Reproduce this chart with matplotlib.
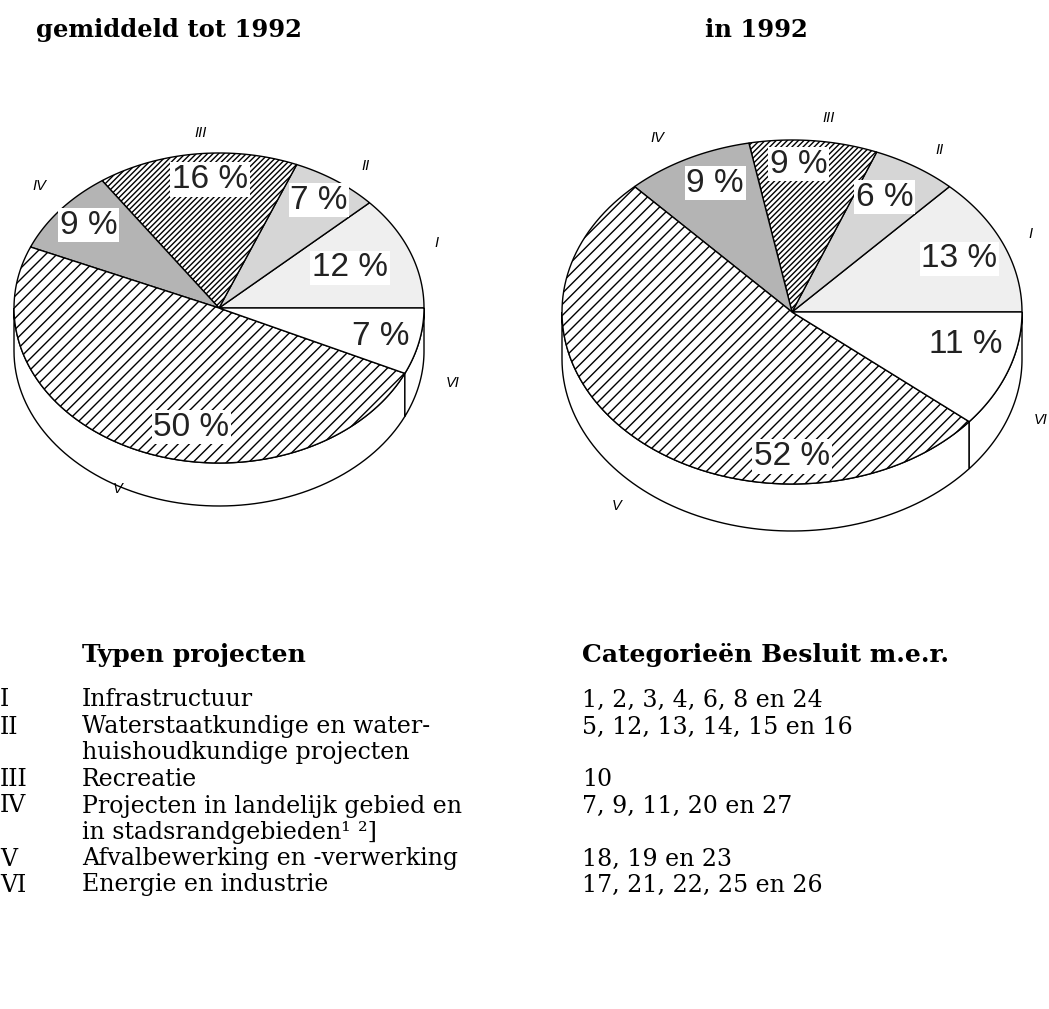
import numpy as np
import matplotlib.pyplot as plt
from matplotlib.patches import Polygon

plt.rcParams['hatch.linewidth'] = 1.0

# data
labels = ['I', 'II', 'III', 'IV', 'V', 'VI']
avg_until_1992 = [12, 7, 16, 9, 50, 7]
in_1992 = [13, 6, 9, 9, 52, 11]

titles = ['gemiddeld tot 1992', 'in 1992']

types = ['Infrastructuur',
         'Waterstaatkundige en water-\nhuishoudkundige projecten',
         'Recreatie',
         'Projecten in landelijk gebied en\nin stadsrandgebieden\u00b9 \u00b2]',
         'Afvalbewerking en -verwerking',
         'Energie en industrie']
categories = ['1, 2, 3, 4, 6, 8 en 24',
              '5, 12, 13, 14, 15 en 16',
              '10',
              '7, 9, 11, 20 en 27',
              '18, 19 en 23',
              '17, 21, 22, 25 en 26']

# styles per slice
fills = ['#efefef', '#d6d6d6', 'white', '#b4b4b4', 'white', 'white']
hatches = [None, None, '//////', None, '///', None]


def ell(cx, cy, rx, ry, t):
    t = np.radians(t)
    return np.column_stack([cx + rx * np.cos(t), cy - ry * np.sin(t)])


def draw_pie(ax, cx, cy, rx, ry, depth, values, pct_pos, lab_pos):
    vals = np.array(values, dtype=float)
    edges = np.concatenate([[0], np.cumsum(vals) / vals.sum() * 360])

    # side wall (front half only)
    for a, b in zip(edges[:-1], edges[1:]):
        lo, hi = max(a, 180), min(b, 360)
        if hi <= lo:
            continue
        t = np.linspace(lo, hi, 80)
        top = ell(cx, cy, rx, ry, t)
        bot = top[::-1] + [0, depth]
        ax.add_patch(Polygon(np.vstack([top, bot]), closed=True,
                             facecolor='white', edgecolor='black', lw=1))

    # top wedges
    for i, (a, b) in enumerate(zip(edges[:-1], edges[1:])):
        t = np.linspace(a, b, 100)
        pts = np.vstack([[cx, cy], ell(cx, cy, rx, ry, t)])
        ax.add_patch(Polygon(pts, closed=True, facecolor=fills[i],
                             hatch=hatches[i], edgecolor='black', lw=1))

    for i, v in enumerate(values):
        ang, r = pct_pos[i]
        x, y = ell(cx, cy, rx * r, ry * r, [ang])[0]
        ax.text(x, y, f'{v} %', fontsize=24, family='Liberation Sans',
                ha='center', va='center', color='#222222',
                bbox=dict(boxstyle='square,pad=0.05', fc='white', ec='none'))
        ang, r = lab_pos[i]
        x, y = ell(cx, cy, rx * r, ry * r, [ang])[0]
        ax.text(x, y, labels[i], fontsize=10.5, family='Liberation Sans',
                style='italic', ha='center', va='center')


fig = plt.figure(figsize=(10.49, 10.09), dpi=100)
ax = fig.add_axes([0, 0, 1, 1])
ax.set_xlim(0, 1049)
ax.set_ylim(1009, 0)
ax.axis('off')

draw_pie(ax, 219, 308, 205, 155, 43, avg_until_1992,
         pct_pos=[(22, 0.69), (55, 0.85), (93, 0.83), (140, 0.83), (260, 0.78), (347, 0.81)],
         lab_pos=[(21.6, 1.14), (52, 1.16), (94.5, 1.13), (138, 1.18), (247, 1.27), (337, 1.24)])
draw_pie(ax, 792, 312, 230, 172, 47, in_1992,
         pct_pos=[(23, 0.79), (59, 0.78), (88, 0.86), (114, 0.82), (270, 0.84), (346, 0.78)],
         lab_pos=[(23.5, 1.13), (55.7, 1.14), (82, 1.14), (120, 1.17), (236, 1.36), (330, 1.25)])

ax.text(36, 30, titles[0], fontsize=17.5, family='DejaVu Serif', weight='bold',
        ha='left', va='center')
ax.text(705, 30, titles[1], fontsize=17.5, family='DejaVu Serif', weight='bold',
        ha='left', va='center')

# table below the charts
ax.text(82, 655, 'Typen projecten', fontsize=18, family='DejaVu Serif',
        weight='bold', ha='left', va='center')
ax.text(582, 655, 'Categorieën Besluit m.e.r.', fontsize=18, family='DejaVu Serif',
        weight='bold', ha='left', va='center')

row_y = [700, 727, 780, 806, 859, 885]
for lab, typ, cat, y in zip(labels, types, categories, row_y):
    ax.text(0, y, lab, fontsize=17, family='DejaVu Serif', ha='left', va='center')
    for j, line in enumerate(typ.split('\n')):
        ax.text(82, y + j * 26, line, fontsize=17, family='DejaVu Serif',
                ha='left', va='center')
    ax.text(582, y, cat, fontsize=17, family='DejaVu Serif', ha='left', va='center')

fig.savefig('out.png', dpi=100)
